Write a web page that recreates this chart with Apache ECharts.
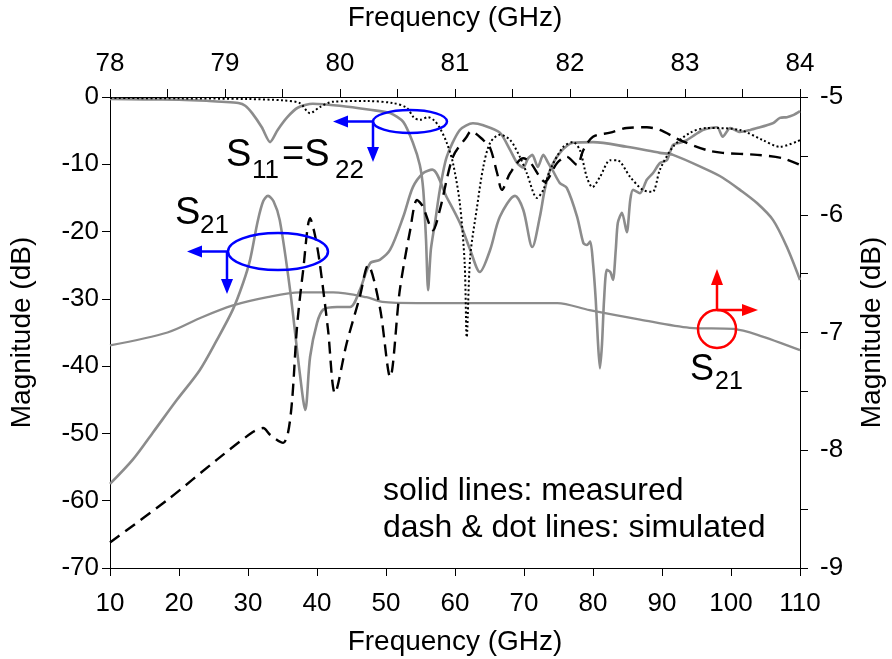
<!DOCTYPE html>
<html><head><meta charset="utf-8">
<script src="https://cdn.jsdelivr.net/npm/echarts@6/dist/echarts.min.js"></script>
<style>html,body{margin:0;padding:0;background:#fff}#c{width:892px;height:659px}</style>
</head><body><div id="c"></div>
<script>
// ---- data (bottom axis GHz, left axis dB) ----
const freqS11Meas = [10,15,20,24,26.2,28.6,29.6,30.6,32.0,33.2,34.3,35.7,37.2,39.4,43.3,47.7,50.6,52.5,53.9,54.9,55.4,55.8,56.1,56.5,57.1,57.8,58.8,60.7,62.6,64.1,66.5,68.0,69.0,69.9,70.6,71.2,72.0,72.8,73.5,74.1,75.2,76.2,77.7,78.6,79.1,79.6,80.0,80.4,80.7,81.0,81.3,81.6,82.0,82.5,82.9,83.3,83.6,84.2,84.9,85.4,85.8,86.8,87.8,88.7,89.7,90.7,91.6,92.6,93.6,94.8,95.9,97.0,98.0,98.8,99.9,101.3,102.8,104.2,105.2,106.1,107.1,108.1,109.0,110];
const s11Meas = [-0.3,-0.35,-0.4,-0.55,-0.7,-0.9,-1.3,-2.4,-4.5,-6.7,-4.9,-3.0,-1.6,-1.0,-1.3,-1.9,-2.4,-3.7,-6.8,-10.1,-13.8,-21.2,-28.7,-22.7,-18.7,-13.8,-8.9,-4.9,-3.9,-4.2,-5.3,-7.9,-9.8,-10.5,-9.1,-8.6,-10.4,-8.6,-9.8,-10.8,-12.8,-13.5,-17.8,-21.7,-22.0,-21.5,-24.7,-30.2,-36.1,-40.3,-36.8,-30.2,-25.7,-26.0,-27.2,-22.7,-18.7,-17.2,-20.1,-15.3,-13.8,-14.3,-12.3,-11.3,-9.8,-9.4,-7.1,-6.8,-6.4,-5.6,-4.9,-4.6,-4.5,-5.9,-4.6,-5.2,-4.9,-4.5,-4.2,-3.9,-3.1,-3.0,-2.7,-2.1];

const freqS21Meas = [10,13.3,16.2,19.7,23.0,25.5,27.8,29.3,30.3,31.4,32.2,32.9,33.7,34.6,36.1,37.5,38.3,39.0,40.0,40.9,42.9,44.8,46.2,47.7,49.1,50.6,52.5,53.9,55.4,56.7,58.8,60.7,62.2,63.6,65.1,66.5,68.7,69.9,71.2,72.3,73.0,73.8,75.2,77.1,80.0,84.9,89.7,91.6,96.5,98.8,101.3,103.8,106.1,108.1,110];
const s21Meas = [-57.5,-53.9,-49.9,-45.0,-40.6,-36.1,-31.6,-27.6,-24.2,-18.5,-15.5,-14.7,-15.5,-18.3,-28.7,-41.0,-46.5,-38.6,-33.6,-31.6,-31.2,-31.2,-28.7,-24.7,-24.2,-22.7,-17.8,-13.4,-11.3,-10.8,-14.9,-18.7,-22.7,-26.0,-22.7,-17.8,-14.7,-16.8,-22.3,-17.8,-13.8,-10.8,-8.3,-6.8,-6.7,-7.4,-8.3,-8.6,-10.8,-12.0,-13.8,-15.8,-18.3,-22.3,-27.2];

const freqS21Sim = [10,18.3,25.5,30.7,32.2,33.2,35.1,35.8,36.4,37.1,38.0,39.0,39.7,40.4,41.6,42.6,44.3,46.2,47.4,49.1,50.6,52.0,53.5,54.5,55.3,56.8,57.8,59.7,61.7,62.3,64.1,65.1,66.1,66.8,68.0,69.9,70.9,72.3,73.0,74.8,76.2,77.7,78.6,80.0,82.5,84.9,87.8,89.7,92.6,96.5,98.8,103.8,107.5,110];
const s21Sim = [-66.2,-59.9,-53.9,-49.8,-49.2,-50.2,-51.4,-49.9,-45.0,-34.2,-25.7,-18.0,-20.5,-24.7,-34.6,-44.0,-36.6,-29.7,-25.0,-31.2,-41.6,-28.7,-19.8,-15.3,-16.2,-19.8,-16.8,-8.9,-5.9,-5.1,-6.4,-7.6,-11.3,-13.8,-11.3,-9.1,-9.7,-11.9,-12.6,-9.8,-8.9,-10.1,-7.9,-5.9,-5.3,-4.6,-4.5,-4.9,-6.4,-7.9,-8.3,-8.6,-9.1,-10.1];

const freqS11Sim = [10,20,30,35,37.5,39.0,40.4,42.3,47.2,51.0,53.0,54.0,54.9,56.1,57.0,57.8,58.8,59.7,60.7,61.4,61.7,62.2,63.2,64.1,65.1,66.5,68.0,69.4,70.4,71.9,72.8,73.8,75.7,77.1,78.1,79.1,79.9,81.0,82.5,83.5,85.4,87.2,88.6,89.7,91.6,94.1,96.5,101.3,104.6,107.1,110];
const s11Sim = [-0.15,-0.2,-0.3,-0.5,-0.9,-2.4,-1.5,-0.7,-0.6,-0.9,-1.6,-3.0,-3.4,-3.0,-3.5,-4.6,-6.8,-9.8,-15.8,-24.7,-35.7,-23.8,-16.3,-10.4,-6.8,-5.6,-6.4,-8.9,-11.3,-15.0,-13.8,-10.8,-7.4,-6.7,-7.9,-11.9,-13.4,-11.9,-9.4,-9.4,-11.9,-13.8,-14.1,-10.8,-7.4,-5.3,-4.6,-4.9,-6.4,-7.4,-6.4];

// ---- data (top axis GHz, right axis dB) ----
const freqZoom = [78,78.5,78.8,79.07,79.37,79.65,79.94,80.23,80.37,80.67,81.04,81.5,81.89,82.17,82.61,83.04,83.42,83.63,84];
const s21Zoom = [-7.11,-7.00,-6.87,-6.77,-6.70,-6.66,-6.66,-6.70,-6.74,-6.75,-6.75,-6.75,-6.75,-6.81,-6.89,-6.96,-6.97,-7.02,-7.15];

// ---- tick settings ----
const bottomTicks = {min:10, max:110, interval:10};
const topTicks = {min:78, max:84, interval:0.5};
const leftTicks = {min:-70, max:0, interval:10};
const rightTicks = {min:-9, max:-5, interval:0.5};

const FONT = "'Liberation Sans', Arial, sans-serif";
const zip = (xs, ys) => xs.map((x, i) => [x, ys[i]]);
const intOnly = v => (Math.abs(v - Math.round(v)) < 1e-6 ? String(Math.round(v)) : '');

function axisBase(extra) {
  return Object.assign({
    type: 'value',
    axisLine: {show: true, onZero: false, lineStyle: {color: '#000', width: 1}},
    axisTick: {show: true, inside: false, length: 8, lineStyle: {color: '#000', width: 1}},
    splitLine: {show: false},
    axisLabel: {color: '#000', fontSize: 26, fontFamily: FONT},
    nameTextStyle: {color: '#000', fontSize: 28, fontFamily: FONT},
    nameLocation: 'middle',
    nameMoveOverlap: false
  }, extra);
}

const chart = echarts.init(document.getElementById('c'), null, {renderer: 'canvas'});
const GRAY = '#8c8c8c';
const BLUE = '#0000ff';
const RED = '#ff0000';

function txt(x, y, s, size) {
  return {type: 'text', x: x, y: y, z: 100,
    style: {text: s, font: size + 'px ' + FONT, fill: '#000', align: 'left', verticalAlign: 'middle', textAlign: 'left', textVerticalAlign: 'middle'}};
}
function ln(x1, y1, x2, y2, c) {
  return {type: 'line', z: 100, shape: {x1: x1, y1: y1, x2: x2, y2: y2}, style: {stroke: c, lineWidth: 2.5}};
}
function tri(pts, c) {
  return {type: 'polygon', z: 100, shape: {points: pts}, style: {fill: c, stroke: null}};
}

const option = {
  animation: false,
  backgroundColor: '#fff',
  grid: {left: 110, right: 92, top: 97, bottom: 91, containLabel: false, outerBoundsMode: 'none'},
  xAxis: [
    axisBase(Object.assign({position: 'bottom', name: 'Frequency (GHz)', nameGap: 60,
      axisLabel: {color: '#000', fontSize: 26, fontFamily: FONT, margin: 23}}, bottomTicks)),
    axisBase(Object.assign({position: 'top', name: 'Frequency (GHz)', nameGap: 65,
      axisLabel: {color: '#000', fontSize: 26, fontFamily: FONT, margin: 20, formatter: intOnly}}, topTicks))
  ],
  yAxis: [
    axisBase(Object.assign({position: 'left', name: 'Magnitude (dB)', nameGap: 74,
      axisLabel: {color: '#000', fontSize: 26, fontFamily: FONT, margin: 11}}, leftTicks)),
    axisBase(Object.assign({position: 'right', name: 'Magnitude (dB)', nameGap: 58,
      axisLabel: {color: '#000', fontSize: 26, fontFamily: FONT, margin: 20, formatter: intOnly}}, rightTicks))
  ],
  series: [
    {name: 'S21 meas', type: 'line', xAxisIndex: 0, yAxisIndex: 0, data: zip(freqS21Meas, s21Meas),
      showSymbol: false, smooth: 0.3, lineStyle: {color: GRAY, width: 2.6}},
    {name: 'S11 meas', type: 'line', xAxisIndex: 0, yAxisIndex: 0, data: zip(freqS11Meas, s11Meas),
      showSymbol: false, smooth: 0.25, lineStyle: {color: GRAY, width: 2.6}},
    {name: 'S21 zoom', type: 'line', xAxisIndex: 1, yAxisIndex: 1, data: zip(freqZoom, s21Zoom),
      showSymbol: false, smooth: 0.3, lineStyle: {color: GRAY, width: 2.3}},
    {name: 'S21 sim', type: 'line', xAxisIndex: 0, yAxisIndex: 0, data: zip(freqS21Sim, s21Sim),
      showSymbol: false, smooth: 0.3, lineStyle: {color: '#000', width: 2.4, type: [12, 7]}},
    {name: 'S11 sim', type: 'line', xAxisIndex: 0, yAxisIndex: 0, data: zip(freqS11Sim, s11Sim),
      showSymbol: false, smooth: 0.3, lineStyle: {color: '#000', width: 2, type: [2, 2.5]}}
  ],
  graphic: [
    // S11=S22 marker
    {type: 'ellipse', z: 100, shape: {cx: 410, cy: 121.5, rx: 37, ry: 11.5}, style: {fill: 'none', stroke: BLUE, lineWidth: 2.5}},
    ln(373, 121.5, 345, 121.5, BLUE), tri([[333, 121.5], [348, 115.5], [348, 127.5]], BLUE),
    ln(373, 121.5, 373, 150, BLUE), tri([[373, 162], [367, 147], [379, 147]], BLUE),
    // S21 (left) marker
    {type: 'ellipse', z: 100, shape: {cx: 278, cy: 251.5, rx: 50, ry: 18.5}, style: {fill: 'none', stroke: BLUE, lineWidth: 2.5}},
    ln(228, 251.5, 200, 251.5, BLUE), tri([[187, 251.5], [202, 245.5], [202, 257.5]], BLUE),
    ln(227, 251.5, 227, 281, BLUE), tri([[227, 294], [221, 279], [233, 279]], BLUE),
    // S21 (right) marker
    {type: 'circle', z: 100, shape: {cx: 717, cy: 329, r: 19}, style: {fill: 'none', stroke: RED, lineWidth: 2.5}},
    ln(717, 310, 717, 284, RED), tri([[717, 269], [711, 285], [723, 285]], RED),
    ln(717, 310, 743, 310, RED), tri([[758, 310], [742, 304], [742, 316]], RED),
    // labels
    txt(226, 156, 'S', 38), txt(252, 171, '11', 26), txt(282, 156, '=S', 38), txt(335, 171, '22', 26),
    txt(175, 214, 'S', 38), txt(200, 226, '21', 26),
    txt(690, 370, 'S', 36), txt(715, 382, '21', 25),
    txt(383, 491, 'solid lines: measured', 32),
    txt(383, 528, 'dash & dot lines: simulated', 32)
  ]
};
chart.setOption(option);
</script></body></html>
